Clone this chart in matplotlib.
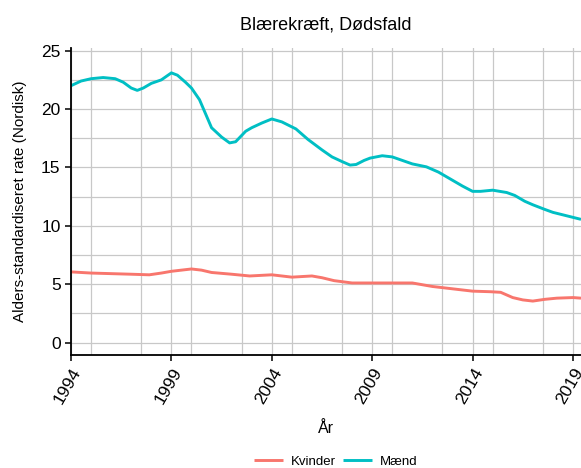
import matplotlib
matplotlib.use("Agg")
import matplotlib.pyplot as plt
from matplotlib.ticker import MultipleLocator

plt.rcParams['font.family'] = ['Liberation Sans', 'DejaVu Sans']

# values
maend_x = [1994.0, 1994.5, 1995.0, 1995.6, 1996.2, 1996.6, 1997.0, 1997.3, 1997.6, 1998.0,
           1998.5, 1999.0, 1999.3, 1999.7, 2000.0, 2000.4, 2000.7, 2001.0, 2001.5, 2001.9,
           2002.2, 2002.7, 2003.0, 2003.5, 2004.0, 2004.5, 2005.2, 2005.8, 2006.5, 2007.0,
           2007.5, 2007.9, 2008.2, 2008.6, 2008.9, 2009.5, 2010.0, 2010.5, 2011.0, 2011.7,
           2012.3, 2012.9, 2013.5, 2014.0, 2014.4, 2015.0, 2015.7, 2016.1, 2016.6, 2017.0,
           2017.6, 2018.0, 2018.7, 2019.4]
maend_y = [22.0, 22.4, 22.6, 22.7, 22.6, 22.3, 21.8, 21.6, 21.8, 22.2,
           22.5, 23.1, 22.9, 22.3, 21.8, 20.8, 19.6, 18.4, 17.6, 17.1,
           17.2, 18.1, 18.4, 18.8, 19.15, 18.9, 18.3, 17.4, 16.5, 15.9,
           15.5, 15.2, 15.25, 15.6, 15.8, 16.0, 15.9, 15.6, 15.3, 15.05,
           14.6, 14.0, 13.4, 12.95, 12.95, 13.05, 12.85, 12.6, 12.1, 11.8,
           11.4, 11.15, 10.85, 10.55]

kvinder_x = [1994.0, 1995.0, 1996.0, 1997.0, 1997.9, 1998.5, 1999.0, 1999.5, 2000.0, 2000.5,
             2001.0, 2002.0, 2002.9, 2004.0, 2005.0, 2006.0, 2006.5, 2007.1, 2008.0, 2009.0,
             2010.0, 2011.0, 2012.0, 2013.0, 2014.0, 2014.9, 2015.4, 2016.0, 2016.5, 2017.0,
             2017.6, 2018.2, 2019.0, 2019.4]
kvinder_y = [6.05, 5.95, 5.9, 5.85, 5.8, 5.95, 6.1, 6.2, 6.3, 6.2,
             6.0, 5.85, 5.7, 5.8, 5.6, 5.7, 5.55, 5.3, 5.1, 5.1,
             5.1, 5.1, 4.8, 4.6, 4.4, 4.35, 4.3, 3.85, 3.65, 3.55,
             3.7, 3.8, 3.85, 3.8]

year_ticks = [1994, 1999, 2004, 2009, 2014, 2019]

fig = plt.figure(figsize=(5.81, 4.68), dpi=100)
ax = fig.add_axes([71 / 581, 1 - 355 / 468, 1 - 71 / 581, (355 - 48) / 468])

ax.plot(kvinder_x, kvinder_y, color="#F8766D", lw=2.1, label="Kvinder", solid_capstyle="butt")
ax.plot(maend_x, maend_y, color="#00BFC4", lw=2.1, label="Mænd", solid_capstyle="butt")

ax.set_xlim(1994, 2019.4)
ax.set_ylim(-1.07, 25.23)
ax.set_xticks(year_ticks)
ax.xaxis.set_minor_locator(MultipleLocator(2.5))
ax.yaxis.set_major_locator(MultipleLocator(5))
ax.yaxis.set_minor_locator(MultipleLocator(2.5))
ax.grid(which="both", color="#C8C8C8", lw=0.9)
ax.set_axisbelow(True)

for s in ["top", "right"]:
    ax.spines[s].set_visible(False)
for s in ["left", "bottom"]:
    ax.spines[s].set_linewidth(1.3)
ax.tick_params(which="major", length=4, width=1.1, labelsize=12.5, color="black")
ax.tick_params(which="minor", length=0)
plt.setp(ax.get_xticklabels(), rotation=60, ha="right", va="top", rotation_mode="anchor")

ax.set_xlabel("År", fontsize=11.5, labelpad=10)
ax.set_ylabel("Alders-standardiseret rate (Nordisk)", fontsize=11, labelpad=10)
ax.set_title("Blærekræft, Dødsfald", fontsize=13, pad=13)

fig.legend(loc="lower center", bbox_to_anchor=(0.578, -0.025), ncol=2, frameon=False,
           fontsize=9.5, handlelength=2.2, columnspacing=0.5, handletextpad=0.6)

fig.savefig("out.png", dpi=100)
